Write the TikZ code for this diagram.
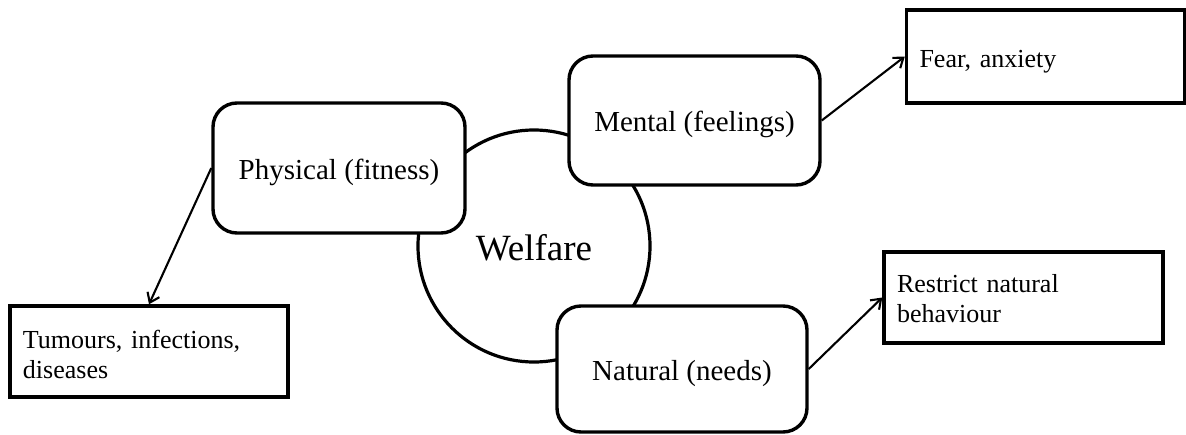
\documentclass[tikz,border=0pt]{standalone}
\usepackage{fontspec}
\setmainfont{Liberation Serif}
\usetikzlibrary{arrows.meta}
\tikzset{
  aspect/.style={draw, line width=3.4pt, rounded corners=24pt, fill=white,
    inner sep=0pt, text height=22pt, text depth=0pt, font=\fontsize{29}{34}\selectfont},
  effect/.style={draw, line width=3.4pt, fill=white, inner xsep=13pt, inner ysep=0pt,
    align=left, font=\fontsize{26}{30}\selectfont},
  link/.style={line width=2.1pt, -{Straight Barb[length=9pt,width=13pt,line width=2.1pt]}},
}
\begin{document}
\begin{tikzpicture}[x=1pt,y=-1pt]
\useasboundingbox (0,0) rectangle (1186,434);
\node[circle, draw, line width=3.2pt, minimum size=232pt, inner sep=0pt,
  text height=28pt, text depth=0pt, font=\fontsize{37}{40}\selectfont] (welf) at (534,246) {Welfare};
\node[aspect, minimum width=252pt, minimum height=130pt] (phys) at (339,168) {Physical (fitness)};
\node[aspect, minimum width=251pt, minimum height=129pt] (ment) at (694.5,120.5) {Mental (feelings)};
\node[aspect, minimum width=250pt, minimum height=126pt] (nat) at (682,369) {Natural (needs)};
\node[effect, minimum height=93pt, text width=252pt, text height=26pt, text depth=5pt] (fear) at (1045.5,56.5) {Fear, anxiety};
\node[effect, minimum height=91pt, text width=253pt, text height=20pt, text depth=31pt] (restr) at (1023.5,297.5) {Restrict natural\\behaviour};
\node[effect, minimum height=91pt, text width=252pt, text height=20pt, text depth=27pt] (tum) at (149,351.5) {Tumours, infections,\\diseases};
\draw[link] (phys.west) -- (tum.north);
\draw[link] (ment.east) -- (fear.west);
\draw[link] (nat.east) -- (restr.west);
\end{tikzpicture}
\end{document}
